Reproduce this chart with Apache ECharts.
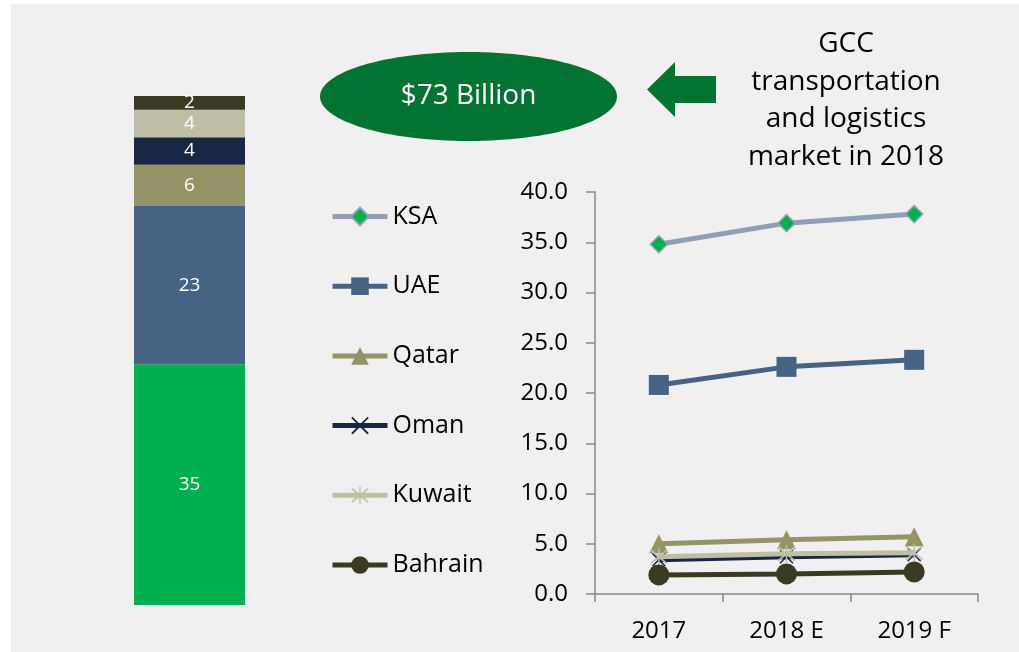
<!DOCTYPE html>
<html>
<head>
<meta charset="utf-8">
<script src="https://cdn.jsdelivr.net/npm/echarts@6/dist/echarts.min.js"></script>
<style>
  html, body { margin: 0; padding: 0; background: #ffffff; }
  #wrap { position: relative; width: 1019px; height: 652px; background: #ffffff; }
  #bg { position: absolute; left: 11px; top: 4px; right: 0; bottom: 0; background: #f0f0f0; }
  #chart { position: absolute; left: 0; top: 0; width: 1019px; height: 652px; }
</style>
</head>
<body>
<div id="wrap"><div id="bg"></div><div id="chart"></div></div>
<script>
// ---- data ----
const years = ['2017', '2018 E', '2019 F'];
const countries = ['KSA', 'UAE', 'Qatar', 'Oman', 'Kuwait', 'Bahrain'];
const ksa     = [34.8, 36.9, 37.8];
const uae     = [20.8, 22.6, 23.3];
const qatar   = [5.0, 5.4, 5.7];
const oman    = [3.4, 3.7, 3.9];
const kuwait  = [3.7, 4.0, 4.1];
const bahrain = [1.9, 2.0, 2.2];
// 2018 market split (US$ billion), stacked bar, bottom to top
const share2018 = [35, 23, 6, 4, 4, 2];
const yTicks = { min: 0, max: 40, interval: 5 };
const bubbleText = '$73 Billion';
const noteText = 'GCC\ntransportation\nand logistics\nmarket in 2018';

// ---- styles ----
const FONT = "'Open Sans', sans-serif";
const lineColors = ['#8fa0b5', '#466384', '#949467', '#1a2744', '#bfbfa5', '#3a3a22'];
const barColors  = ['#00b050', '#466384', '#949467', '#1a2744', '#bfbfa5', '#3a3a22'];
const xPath = 'path://M0,1.5 L1.5,0 L10,8.5 L18.5,0 L20,1.5 L11.5,10 L20,18.5 L18.5,20 L10,11.5 L1.5,20 L0,18.5 L8.5,10 Z';
const starPath = 'path://M0,1.5 L1.5,0 L10,8.5 L18.5,0 L20,1.5 L11.5,10 L20,18.5 L18.5,20 L10,11.5 L1.5,20 L0,18.5 L8.5,10 Z M9.2,-2 L10.8,-2 L10.8,22 L9.2,22 Z';
const lineData = [ksa, uae, qatar, oman, kuwait, bahrain];
const symbols = [
  { symbol: 'diamond', size: 17, fill: '#00b050', border: '#8fa0b5', bw: 1.5 },
  { symbol: 'rect', size: 20, fill: '#466384', border: '#466384', bw: 0 },
  { symbol: 'triangle', size: 19, fill: '#949467', border: '#949467', bw: 0 },
  { symbol: xPath, size: 14, fill: '#1a2744', border: '#1a2744', bw: 0 },
  { symbol: starPath, size: 18, fill: '#bfbfa5', border: '#bfbfa5', bw: 0 },
  { symbol: 'circle', size: 21, fill: '#3a3a22', border: '#3a3a22', bw: 0 }
];

const series = [];
countries.forEach((c, i) => {
  series.push({
    name: c, type: 'line', xAxisIndex: 0, yAxisIndex: 0,
    data: lineData[i],
    symbol: symbols[i].symbol, symbolSize: symbols[i].size, showAllSymbol: true,
    lineStyle: { color: lineColors[i], width: 5 },
    itemStyle: { color: symbols[i].fill, borderColor: symbols[i].border, borderWidth: symbols[i].bw, opacity: 1 },
    emphasis: { disabled: true },
    z: 2 + i
  });
});
countries.forEach((c, i) => {
  series.push({
    name: 'share ' + c, type: 'bar', xAxisIndex: 1, yAxisIndex: 1, stack: 'total',
    data: [share2018[i]], barWidth: '100%',
    itemStyle: { color: barColors[i] },
    label: { show: true, position: 'inside', color: '#ffffff', fontFamily: FONT, fontSize: 19,
             formatter: p => String(p.value) },
    emphasis: { disabled: true }
  });
});

const chart = echarts.init(document.getElementById('chart'), null, { renderer: 'canvas' });
chart.setOption({
  backgroundColor: 'transparent',
  animation: false,
  textStyle: { fontFamily: FONT },
  legend: {
    data: countries, orient: 'vertical', left: 330, top: 204, padding: 0,
    itemWidth: 55, itemHeight: 22, itemGap: 44.7,
    lineStyle: { width: 5 },
    textStyle: { fontFamily: FONT, fontSize: 25, color: '#000000' }
  },
  grid: [
    { left: 595, top: 192, width: 383, height: 402 },
    { left: 134, top: 96, width: 111, height: 509 }
  ],
  xAxis: [
    { type: 'category', gridIndex: 0, data: years, boundaryGap: true,
      axisLine: { lineStyle: { color: '#888888', width: 1.5 } },
      axisTick: { show: true, length: 8, lineStyle: { color: '#888888', width: 1.5 } },
      axisLabel: { color: '#000000', fontFamily: FONT, fontSize: 24, margin: 25 } },
    { type: 'category', gridIndex: 1, data: ['2018'], show: false }
  ],
  yAxis: [
    { type: 'value', gridIndex: 0, min: yTicks.min, max: yTicks.max, interval: yTicks.interval,
      axisLine: { show: true, lineStyle: { color: '#888888', width: 1.5 } },
      axisTick: { show: true, length: 9, lineStyle: { color: '#888888', width: 1.5 } },
      splitLine: { show: false },
      axisLabel: { color: '#000000', fontFamily: FONT, fontSize: 24, margin: 27,
                   formatter: v => v.toFixed(1) } },
    { type: 'value', gridIndex: 1, min: 0, max: share2018.reduce((a, b) => a + b, 0), show: false }
  ],
  series: series,
  graphic: [
    { type: 'ellipse', shape: { cx: 468.5, cy: 96.5, rx: 148.5, ry: 44.5 },
      style: { fill: '#037332' } },
    { type: 'text', x: 468.5, y: 96.5,
      style: { text: bubbleText, fill: '#ffffff', font: "28px 'Open Sans', sans-serif",
               textAlign: 'center', textVerticalAlign: 'middle' } },
    { type: 'polygon',
      shape: { points: [[647, 89.5], [675, 62], [675, 76], [716, 76], [716, 103], [675, 103], [675, 117]] },
      style: { fill: '#037332' } },
    { type: 'text', x: 846, y: 100.5,
      style: { text: noteText, fill: '#000000', font: "28px 'Open Sans', sans-serif",
               textAlign: 'center', textVerticalAlign: 'middle', lineHeight: 37.7 } }
  ]
});
</script>
</body>
</html>
